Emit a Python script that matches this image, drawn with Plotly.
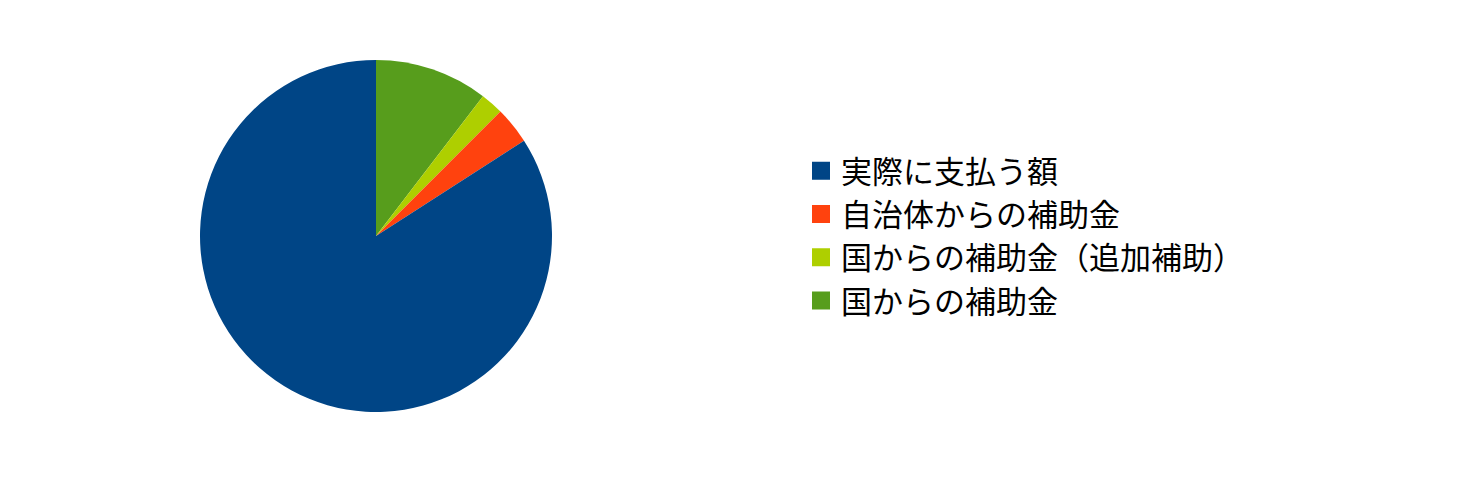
import plotly.graph_objects as go

labels = ["実際に支払う額", "自治体からの補助金", "国からの補助金（追加補助）", "国からの補助金"]
values = [84.1, 3.4, 2.1, 10.4]
colors = ["#004586", "#ff420e", "#aecf00", "#579d1c"]

W, H = 1459, 492
off = 8  # page body margin
cx, cy, r = 376 - off, 236 - off, 176

fig = go.Figure()
# pie drawn clockwise from 12 o'clock in reversed order (green first), matching the reference
fig.add_trace(go.Pie(
    labels=labels[::-1],
    values=values[::-1],
    sort=False,
    direction="clockwise",
    rotation=0,
    textinfo="none",
    hoverinfo="label+percent",
    showlegend=False,
    marker=dict(colors=colors[::-1], line=dict(width=0)),
    domain=dict(x=[(cx - r) / W, (cx + r) / W], y=[(H - cy - r) / H, (H - cy + r) / H]),
))

# legend entries with larger square swatches
for lab, col in zip(labels, colors):
    fig.add_trace(go.Scatter(
        x=[None], y=[None], mode="markers", name=lab,
        marker=dict(symbol="square", size=16, color=col, line=dict(width=2, color=col)),
        hoverinfo="skip",
    ))

fig.update_layout(
    width=W, height=H,
    margin=dict(l=0, r=0, t=0, b=0),
    paper_bgcolor="white",
    plot_bgcolor="white",
    xaxis=dict(visible=False),
    yaxis=dict(visible=False),
    font=dict(family="Noto Sans CJK JP", color="#000000"),
    legend=dict(
        x=793 / W, xanchor="left",
        y=(H - (236 - off)) / H, yanchor="middle",
        font=dict(size=31, family="Noto Sans CJK JP", color="#000000"),
        bgcolor="rgba(0,0,0,0)",
        tracegroupgap=0,
        itemsizing="trace",
    ),
)

fig.write_html("out.html")
